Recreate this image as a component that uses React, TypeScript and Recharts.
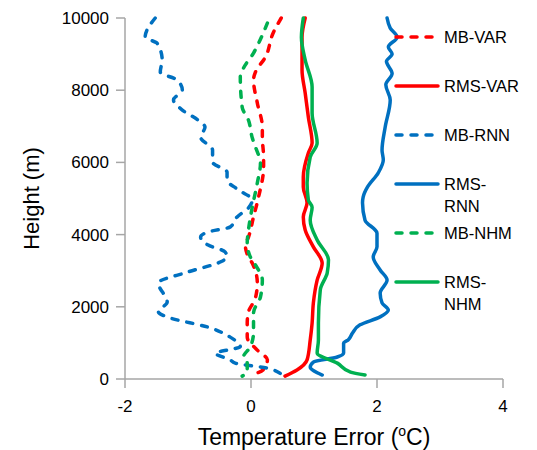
import React from "react";
import { ScatterChart, Scatter, XAxis, YAxis, Legend, Label } from "recharts";

// temperature error (°C) vs height (m)
const mbVar = [
  { x: 0.48, h: 10000 }, { x: 0.35, h: 9580 }, { x: 0.23, h: 8920 }, { x: 0.07, h: 8500 },
  { x: 0.04, h: 8280 }, { x: 0.1, h: 7650 }, { x: 0.18, h: 6980 }, { x: 0.18, h: 6680 },
  { x: 0.2, h: 6150 }, { x: 0.2, h: 5870 }, { x: 0.12, h: 5040 }, { x: 0.04, h: 4490 },
  { x: -0.04, h: 3930 }, { x: -0.09, h: 3710 }, { x: -0.04, h: 3380 }, { x: 0.02, h: 3210 },
  { x: 0.1, h: 2660 }, { x: 0.07, h: 2240 }, { x: -0.04, h: 1860 }, { x: -0.06, h: 1550 },
  { x: -0.06, h: 1160 }, { x: 0.1, h: 800 }, { x: 0.26, h: 530 }, { x: 0.19, h: 250 },
  { x: -0.01, h: 110 },
];

const rmsVar = [
  { x: 0.86, h: 10000 }, { x: 0.81, h: 9470 }, { x: 0.81, h: 8560 }, { x: 0.86, h: 7920 },
  { x: 0.91, h: 7260 }, { x: 0.97, h: 6540 }, { x: 0.91, h: 6260 }, { x: 0.83, h: 5600 },
  { x: 0.83, h: 5320 }, { x: 0.89, h: 4880 }, { x: 0.83, h: 4490 }, { x: 0.86, h: 4130 },
  { x: 0.99, h: 3660 }, { x: 1.13, h: 3210 }, { x: 1.05, h: 2740 }, { x: 0.99, h: 2110 },
  { x: 0.97, h: 1550 }, { x: 0.94, h: 1080 }, { x: 0.89, h: 530 }, { x: 0.73, h: 250 },
  { x: 0.54, h: 80 },
];

const mbRnn = [
  { x: -1.52, h: 10000 }, { x: -1.68, h: 9470 }, { x: -1.49, h: 9300 }, { x: -1.41, h: 8840 },
  { x: -1.44, h: 8500 }, { x: -1.17, h: 8280 }, { x: -1.09, h: 8000 }, { x: -1.23, h: 7730 },
  { x: -1.09, h: 7450 }, { x: -0.84, h: 7170 }, { x: -0.73, h: 6980 }, { x: -0.8, h: 6700 },
  { x: -0.61, h: 6340 }, { x: -0.61, h: 6010 }, { x: -0.38, h: 5730 }, { x: -0.38, h: 5510 },
  { x: -0.2, h: 5240 }, { x: 0.02, h: 4960 }, { x: -0.04, h: 4740 }, { x: -0.22, h: 4490 },
  { x: -0.33, h: 4210 }, { x: -0.69, h: 4070 }, { x: -0.8, h: 3930 }, { x: -0.68, h: 3710 },
  { x: -0.41, h: 3520 }, { x: -0.38, h: 3380 }, { x: -0.49, h: 3240 }, { x: -1.01, h: 2960 },
  { x: -1.47, h: 2660 }, { x: -1.33, h: 2130 }, { x: -1.47, h: 1860 }, { x: -1.28, h: 1690 },
  { x: -0.69, h: 1440 }, { x: -0.33, h: 1160 }, { x: -0.17, h: 890 }, { x: -0.38, h: 800 },
  { x: -0.57, h: 720 }, { x: -0.33, h: 530 }, { x: -0.25, h: 440 }, { x: 0.26, h: 300 },
  { x: 0.51, h: 80 },
];

const rmsRnn = [
  { x: 2.16, h: 10000 }, { x: 2.21, h: 9720 }, { x: 2.32, h: 9470 }, { x: 2.18, h: 9200 },
  { x: 2.24, h: 9000 }, { x: 2.15, h: 8800 }, { x: 2.24, h: 8460 }, { x: 2.14, h: 8150 },
  { x: 2.21, h: 7730 }, { x: 2.13, h: 6980 }, { x: 2.08, h: 6340 }, { x: 2.1, h: 6070 },
  { x: 2.02, h: 5710 }, { x: 1.85, h: 5320 }, { x: 1.78, h: 5040 }, { x: 1.77, h: 4880 },
  { x: 1.81, h: 4400 }, { x: 2.0, h: 4040 }, { x: 2.0, h: 3660 }, { x: 1.94, h: 3380 },
  { x: 2.05, h: 3020 }, { x: 2.16, h: 2740 }, { x: 2.05, h: 2380 }, { x: 2.08, h: 2110 },
  { x: 2.18, h: 1910 }, { x: 2.05, h: 1720 }, { x: 1.73, h: 1500 }, { x: 1.61, h: 1270 },
  { x: 1.54, h: 1080 }, { x: 1.47, h: 1000 }, { x: 1.47, h: 720 }, { x: 1.37, h: 610 },
  { x: 0.99, h: 470 }, { x: 0.94, h: 330 }, { x: 1.13, h: 110 },
];

const mbNhm = [
  { x: 0.26, h: 9860 }, { x: 0.12, h: 9300 }, { x: 0.04, h: 9030 }, { x: -0.12, h: 8610 },
  { x: -0.17, h: 8370 }, { x: -0.14, h: 7530 }, { x: -0.04, h: 7170 }, { x: 0.02, h: 6680 },
  { x: 0.07, h: 6430 }, { x: 0.15, h: 5980 }, { x: 0.1, h: 5430 }, { x: 0.02, h: 4760 },
  { x: -0.04, h: 4130 }, { x: -0.06, h: 3770 }, { x: -0.01, h: 3380 }, { x: 0.07, h: 3160 },
  { x: 0.18, h: 2740 }, { x: 0.15, h: 2270 }, { x: 0.04, h: 1830 }, { x: 0.04, h: 1300 },
  { x: -0.01, h: 890 }, { x: -0.12, h: 610 }, { x: -0.06, h: 440 }, { x: -0.06, h: 190 },
  { x: -0.14, h: 80 },
];

const rmsNhm = [
  { x: 0.83, h: 10000 }, { x: 0.8, h: 9470 }, { x: 0.86, h: 8840 }, { x: 0.97, h: 8090 },
  { x: 0.97, h: 7370 }, { x: 1.05, h: 6540 }, { x: 0.94, h: 6150 }, { x: 0.89, h: 5430 },
  { x: 0.91, h: 4960 }, { x: 0.97, h: 4760 }, { x: 0.94, h: 4400 }, { x: 1.05, h: 3850 },
  { x: 1.23, h: 3300 }, { x: 1.21, h: 2940 }, { x: 1.1, h: 2470 }, { x: 1.07, h: 1550 },
  { x: 1.07, h: 1080 }, { x: 1.05, h: 720 }, { x: 1.37, h: 440 }, { x: 1.58, h: 190 },
  { x: 1.81, h: 110 },
];

const xTicks = [-2, 0, 2, 4];
const yTicks = [0, 2000, 4000, 6000, 8000, 10000];

const RED = "#ff0000";
const BLUE = "#0070c0";
const GREEN = "#00b050";
const FONT = "'Liberation Sans', Arial, sans-serif";
const DASH = "6 9";

const series = [
  { key: "mbVar", label: ["MB-VAR"], data: mbVar, color: RED, dashed: true },
  { key: "rmsVar", label: ["RMS-VAR"], data: rmsVar, color: RED, dashed: false },
  { key: "mbRnn", label: ["MB-RNN"], data: mbRnn, color: BLUE, dashed: true },
  { key: "rmsRnn", label: ["RMS-", "RNN"], data: rmsRnn, color: BLUE, dashed: false },
  { key: "mbNhm", label: ["MB-NHM"], data: mbNhm, color: GREEN, dashed: true },
  { key: "rmsNhm", label: ["RMS-", "NHM"], data: rmsNhm, color: GREEN, dashed: false },
];

function LegendBox() {
  return (
    <div style={{ fontFamily: FONT, fontSize: 16.5, color: "#000" }}>
      {series.map((s) => (
        <div key={s.key} style={{ height: 49, display: "flex", alignItems: "flex-start" }}>
          <svg width={50} height={24} style={{ flex: "none" }}>
            <line
              x1={2} y1={12} x2={44} y2={12}
              stroke={s.color} strokeWidth={3.5} strokeLinecap="round"
              strokeDasharray={s.dashed ? DASH : undefined}
            />
          </svg>
          <div style={{ lineHeight: "22px", marginTop: 1 }}>
            {s.label.map((l) => <div key={l}>{l}</div>)}
          </div>
        </div>
      ))}
    </div>
  );
}

function XTitle({ viewBox }: any) {
  const cx = viewBox.x + viewBox.width / 2;
  return (
    <text x={cx} y={445} textAnchor="middle" fontFamily={FONT} fontSize={23} fill="#000">
      Temperature Error (<tspan dy={-9} fontSize={14}>o</tspan><tspan dy={9}>C)</tspan>
    </text>
  );
}

function YTitle({ viewBox }: any) {
  const cy = viewBox.y + viewBox.height / 2;
  return (
    <text x={39} y={cy} transform={`rotate(-90, 39, ${cy})`} textAnchor="middle"
      fontFamily={FONT} fontSize={22} fill="#000">
      Height (m)
    </text>
  );
}

export default function App() {
  const axisLine = { stroke: "#a6a6a6", strokeWidth: 1.5 };
  const tick = { fontSize: 17, fill: "#000", fontFamily: FONT };
  return (
    <div style={{ position: "absolute", left: 0, top: 0, width: 537, height: 450, background: "#fff" }}>
      <ScatterChart width={537} height={450} margin={{ top: 18, right: 34, bottom: 0, left: 0 }}>
        <XAxis
          type="number" dataKey="x" domain={[-2, 4]} ticks={xTicks} height={71}
          axisLine={axisLine} tickLine={axisLine} tickSize={9} tickMargin={12} tick={tick}
          interval={0}
        >
          <Label content={<XTitle />} />
        </XAxis>
        <YAxis
          type="number" dataKey="h" domain={[0, 10000]} ticks={yTicks} width={125}
          axisLine={axisLine} tickLine={axisLine} tickSize={9} tickMargin={7} tick={tick}
          interval={0}
        >
          <Label content={<YTitle />} />
        </YAxis>
        {series.map((s) => (
          <Scatter
            key={s.key}
            name={s.label.join("")}
            data={s.data}
            fill={s.color}
            line={{
              stroke: s.color,
              strokeWidth: 3.5,
              strokeLinecap: "round",
              strokeLinejoin: "round",
              strokeDasharray: s.dashed ? DASH : undefined,
            }}
            lineJointType="monotoneY"
            shape={() => <g />}
            isAnimationActive={false}
          />
        ))}
        <Legend
          layout="vertical" align="center" verticalAlign="middle"
          wrapperStyle={{ left: 394, top: 25, width: 140 }}
          content={() => <LegendBox />}
        />
      </ScatterChart>
    </div>
  );
}
